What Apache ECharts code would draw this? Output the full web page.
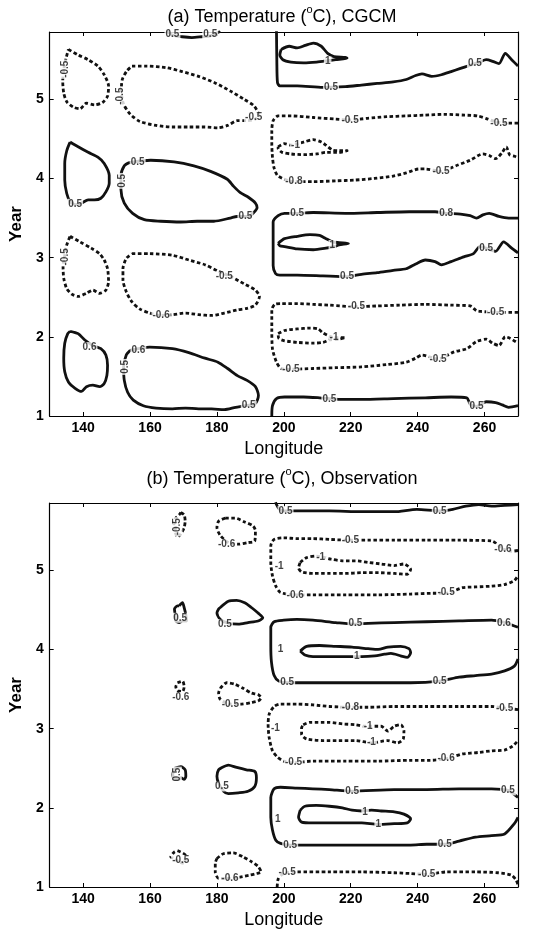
<!DOCTYPE html>
<html>
<head>
<meta charset="utf-8">
<script src="https://cdn.jsdelivr.net/npm/echarts@6/dist/echarts.min.js"></script>
<style>html,body{margin:0;padding:0;background:#fff}#c{width:539px;height:930px}</style>
</head>
<body>
<div id="c"></div>
<script>
// ---------- axis ticks ----------
var xTicks = [140, 160, 180, 200, 220, 240, 260];
var yTicks = [1, 2, 3, 4, 5];
var lonRange = [130, 270];
var yearRange = [1, 5.85];

// ---------- panel (a) CGCM : positive (solid) contours ----------
var aPos1 = [[136.1,4.46],[138.5,4.40],[141.5,4.33],[144.4,4.27],[146.3,4.19],[147.8,4.04],[147.8,3.94],[146.8,3.83],[145.3,3.75],[143.4,3.73],[141.5,3.73],[139.5,3.69],[137.6,3.67],[136.1,3.71],[135.1,3.81],[134.5,3.98],[134.5,4.19],[135.1,4.35],[136.1,4.46]];
var aPos2 = [[153.8,4.20],[160.2,4.23],[167.2,4.21],[173.1,4.16],[178.1,4.09],[183.1,3.99],[185.0,3.90],[187.0,3.82],[189.5,3.76],[191.5,3.69],[192.0,3.63],[191.0,3.57],[189.5,3.52],[186.0,3.52],[184.0,3.50],[179.1,3.46],[174.1,3.46],[169.2,3.45],[163.2,3.46],[158.3,3.48],[154.8,3.56],[152.3,3.69],[151.3,3.86],[151.3,4.03],[152.3,4.16],[153.8,4.20]];
var aPos3 = [[136.1,2.07],[138.5,2.04],[140.5,1.96],[142.9,1.89],[145.3,1.85],[146.8,1.77],[147.3,1.64],[147.1,1.51],[146.3,1.41],[144.9,1.37],[142.9,1.39],[141.0,1.37],[139.5,1.31],[137.6,1.35],[135.6,1.43],[134.5,1.56],[134.2,1.73],[134.5,1.92],[135.4,2.04],[136.1,2.07]];
var aPos4 = [[154.1,1.83],[159.9,1.87],[166.7,1.85],[171.6,1.80],[176.4,1.73],[180.3,1.68],[183.2,1.60],[186.1,1.51],[189.0,1.45],[191.5,1.37],[192.4,1.26],[191.5,1.16],[188.5,1.13],[185.6,1.11],[182.2,1.08],[178.4,1.09],[174.5,1.09],[170.6,1.10],[166.7,1.09],[161.8,1.10],[158.0,1.13],[155.0,1.20],[153.3,1.30],[152.3,1.45],[152.1,1.62],[152.9,1.77],[154.1,1.83]];
var aPos5 = [[165.0,5.86],[166.7,5.81],[169.6,5.79],[172.5,5.78],[175.5,5.79],[178.0,5.80],[181.0,5.86]];
var aPos6 = [[197.8,5.86],[197.9,5.50],[198.1,5.21],[198.8,5.17],[204.0,5.17],[211.7,5.15],[218.4,5.16],[223.2,5.18],[227.9,5.20],[232.7,5.22],[236.6,5.25],[239.4,5.30],[241.3,5.32],[244.2,5.29],[247.1,5.31],[250.0,5.35],[252.8,5.39],[255.7,5.43],[258.5,5.47],[260.5,5.50],[262.4,5.48],[264.3,5.45],[266.2,5.58],[268.1,5.50],[270.0,5.42]];
var aPos7 = [[199.2,5.63],[201.6,5.67],[204.0,5.65],[206.4,5.68],[208.8,5.71],[211.2,5.67],[213.1,5.58],[215.0,5.54],[218.4,5.53],[218.9,5.52],[215.5,5.50],[213.6,5.49],[209.8,5.47],[205.9,5.46],[202.1,5.47],[199.7,5.50],[198.8,5.56],[199.2,5.63]];
var aPos8 = [[270.0,3.50],[267.2,3.50],[264.3,3.52],[261.4,3.56],[259.5,3.54],[257.6,3.50],[255.7,3.53],[252.8,3.55],[248.5,3.56],[245.2,3.58],[237.5,3.58],[227.9,3.57],[218.4,3.56],[208.8,3.57],[204.0,3.56],[200.2,3.56],[198.3,3.53],[196.8,3.45],[196.8,3.20],[196.8,2.90],[197.5,2.80],[198.8,2.78],[204.0,2.78],[211.7,2.77],[218.9,2.76],[223.2,2.79],[227.9,2.81],[232.7,2.84],[236.6,2.86],[239.4,2.92],[242.3,2.97],[245.2,2.95],[247.1,2.91],[250.0,2.95],[253.8,3.01],[256.7,3.05],[258.6,3.14],[260.5,3.12],[263.3,3.08],[265.7,3.20],[268.1,3.12],[270.0,3.06]];
var aPos9 = [[198.3,3.18],[200.2,3.24],[204.0,3.27],[207.8,3.29],[210.7,3.28],[212.6,3.24],[214.5,3.20],[216.5,3.19],[219.3,3.18],[216.5,3.16],[215.0,3.14],[212.6,3.12],[208.8,3.10],[204.0,3.11],[200.2,3.14],[198.8,3.15],[198.3,3.18]];
var aPos10 = [[196.4,1.00],[196.6,1.13],[197.8,1.22],[200.2,1.24],[205.9,1.24],[210.7,1.23],[213.6,1.22],[217.4,1.21],[223.2,1.21],[232.7,1.22],[242.3,1.23],[250.0,1.24],[254.7,1.23],[255.7,1.15],[257.6,1.12],[260.5,1.18],[263.3,1.17],[265.3,1.14],[267.2,1.11],[270.0,1.13]];

// ---------- panel (a) CGCM : negative (dashed) contours ----------
var aNeg1 = [[135.6,5.63],[138.5,5.56],[141.5,5.50],[144.4,5.42],[146.3,5.31],[147.6,5.17],[147.3,5.04],[145.8,4.96],[143.4,4.93],[141.0,4.95],[139.0,4.88],[137.1,4.90],[135.1,4.97],[134.2,5.08],[133.9,5.23],[134.3,5.40],[134.9,5.52],[135.6,5.63]];
var aNeg2 = [[154.6,5.42],[158.9,5.42],[164.8,5.40],[169.6,5.35],[174.5,5.29],[179.3,5.21],[184.2,5.10],[188.1,5.00],[191.0,4.92],[192.4,4.81],[191.5,4.75],[189.0,4.73],[186.1,4.73],[183.2,4.67],[180.3,4.64],[176.4,4.65],[171.6,4.65],[166.7,4.65],[161.8,4.67],[157.0,4.72],[154.1,4.81],[152.1,4.94],[151.4,5.10],[151.7,5.25],[153.1,5.36],[154.6,5.42]];
var aNeg3 = [[136.1,3.27],[139.0,3.20],[142.4,3.12],[144.9,3.05],[146.3,2.97],[147.3,2.86],[147.6,2.70],[146.8,2.59],[144.9,2.55],[142.9,2.59],[141.0,2.55],[138.5,2.51],[136.6,2.54],[135.1,2.61],[134.2,2.74],[134.0,2.89],[134.5,3.03],[135.1,3.16],[136.1,3.27]];
var aNeg4 = [[154.6,3.05],[159.9,3.05],[166.7,3.03],[171.6,2.97],[176.4,2.91],[180.3,2.83],[184.2,2.76],[188.1,2.67],[191.5,2.59],[192.7,2.51],[191.5,2.40],[189.0,2.36],[186.1,2.34],[182.2,2.30],[178.4,2.27],[174.5,2.28],[170.6,2.30],[166.7,2.28],[162.8,2.27],[159.9,2.30],[157.0,2.35],[154.6,2.44],[152.9,2.57],[151.9,2.72],[151.9,2.86],[152.9,2.99],[154.6,3.05]];
var aNeg5 = [[270.0,4.70],[267.0,4.70],[265.7,4.70],[263.0,4.72],[261.0,4.75],[258.0,4.79],[254.0,4.80],[248.0,4.81],[242.0,4.80],[236.6,4.79],[230.8,4.78],[225.0,4.76],[219.8,4.74],[215.5,4.75],[208.8,4.77],[202.0,4.79],[198.3,4.79],[196.8,4.73],[196.4,4.60],[196.4,4.44],[196.6,4.27],[197.1,4.13],[198.3,4.03],[203.0,3.96],[208.8,3.96],[215.5,3.97],[221.2,3.98],[227.0,4.00],[232.7,4.03],[236.6,4.07],[240.4,4.12],[242.3,4.12],[247.0,4.09],[252.0,4.17],[255.7,4.23],[259.5,4.31],[261.4,4.29],[263.3,4.25],[265.3,4.33],[266.5,4.40],[267.5,4.30],[269.0,4.28],[270.0,4.26]];
var aNeg6 = [[198.3,4.40],[200.2,4.44],[202.1,4.42],[205.9,4.46],[208.8,4.49],[211.2,4.46],[212.6,4.42],[214.5,4.36],[216.5,4.35],[218.9,4.35],[216.5,4.33],[212.6,4.33],[209.8,4.31],[205.9,4.30],[202.1,4.31],[199.5,4.33],[198.3,4.38],[198.3,4.40]];
var aNeg7 = [[270.0,2.31],[266.0,2.31],[263.3,2.31],[259.0,2.32],[257.6,2.33],[255.7,2.39],[250.0,2.40],[242.3,2.41],[234.6,2.40],[227.9,2.39],[221.7,2.38],[213.6,2.40],[208.8,2.41],[204.0,2.42],[199.2,2.42],[197.3,2.41],[196.4,2.34],[196.4,2.10],[196.6,1.85],[197.8,1.68],[199.2,1.60],[202.1,1.59],[208.8,1.60],[215.5,1.61],[223.2,1.62],[230.8,1.65],[236.6,1.68],[239.4,1.73],[241.3,1.77],[246.1,1.72],[250.9,1.81],[254.7,1.85],[257.6,1.94],[260.5,1.97],[262.4,1.92],[264.3,1.89],[266.2,2.00],[267.7,1.98],[270.0,1.92]];
var aNeg8 = [[198.3,2.04],[200.2,2.08],[204.0,2.10],[207.8,2.11],[210.2,2.10],[211.7,2.05],[213.6,2.01],[215.0,1.99],[218.4,1.99],[216.5,1.97],[213.6,1.96],[211.7,1.93],[208.8,1.92],[204.0,1.93],[200.2,1.95],[198.5,1.98],[198.3,2.04]];

// ---------- panel (a) contour labels ----------
var aLabels = [[137.6,3.68,'0.5'],[156.3,4.21,'0.5'],[188.5,3.52,'0.5'],[141.9,1.87,'0.6'],[156.5,1.83,'0.6'],[189.5,1.13,'0.5'],
  [191.0,4.77,'-0.5'],[182.2,2.76,'-0.5'],[163.3,2.27,'-0.6'],[166.7,5.82,'0.5'],[178.0,5.82,'0.5'],
  [214.1,5.15,'0.5'],[257.1,5.46,'0.5'],[213.1,5.48,'1'],[219.8,4.74,'-0.5'],[264.3,4.70,'-0.5'],[203.0,3.96,'-0.8'],[247.0,4.09,'-0.5'],[203.5,4.42,'-1'],
  [204.0,3.56,'0.5'],[248.5,3.56,'0.8'],[218.9,2.76,'0.5'],[260.5,3.12,'0.5'],[214.5,3.16,'1'],
  [221.7,2.38,'-0.5'],[263.3,2.31,'-0.5'],[202.1,1.59,'-0.5'],[246.1,1.72,'-0.5'],[215.0,1.99,'-1'],
  [213.6,1.21,'0.5'],[257.6,1.12,'0.5']];
var aLabelsVert = [[134.6,5.38,'-0.5'],[151.2,5.04,'-0.5'],[151.8,3.97,'0.5'],[134.6,3.01,'-0.5'],[152.6,1.62,'0.5']];

// ---------- panel (b) Observation : positive (solid) contours ----------
var bPos1 = [[168.7,4.55],[169.7,4.59],[170.2,4.53],[170.7,4.44],[170.9,4.36],[169.7,4.36],[168.7,4.34],[167.7,4.36],[167.5,4.44],[167.3,4.51],[168.2,4.55],[168.7,4.55]];
var bPos2 = [[181.0,4.53],[183.4,4.61],[185.9,4.62],[188.3,4.59],[190.3,4.53],[192.3,4.46],[193.7,4.40],[192.3,4.36],[189.3,4.34],[186.4,4.32],[182.9,4.34],[181.0,4.38],[180.0,4.46],[180.5,4.51],[181.0,4.53]];
var bPos3 = [[167.3,2.50],[169.2,2.52],[170.5,2.48],[170.7,2.40],[170.2,2.36],[169.2,2.38],[168.7,2.36],[167.3,2.36],[166.8,2.42],[167.3,2.50]];
var bPos4 = [[181.5,2.51],[183.4,2.54],[185.9,2.51],[188.8,2.48],[191.3,2.46],[191.8,2.38],[191.3,2.27],[189.3,2.21],[186.4,2.19],[183.4,2.18],[182.0,2.21],[180.5,2.31],[180.0,2.40],[180.5,2.48],[181.5,2.51]];
var bPos5 = [[197.5,5.86],[198.5,5.78],[200.0,5.75],[203.9,5.75],[213.6,5.75],[223.3,5.74],[233.0,5.74],[239.8,5.77],[246.6,5.75],[250.5,5.77],[254.4,5.81],[258.3,5.83],[262.1,5.81],[266.0,5.82],[270.0,5.83]];
var bPos6 = [[270.0,4.28],[268.0,4.31],[266.0,4.34],[262.1,4.37],[252.4,4.36],[242.7,4.35],[233.0,4.34],[225.2,4.33],[221.4,4.32],[215.5,4.34],[208.7,4.37],[203.9,4.38],[200.0,4.37],[197.1,4.35],[196.1,4.28],[196.1,4.05],[196.3,3.84],[197.1,3.67],[198.5,3.60],[201.0,3.58],[208.7,3.58],[218.4,3.58],[228.2,3.58],[237.9,3.58],[246.6,3.60],[252.4,3.65],[257.3,3.67],[262.1,3.69],[266.0,3.73],[268.9,3.79],[270.0,3.88]];
var bPos7 = [[204.9,3.98],[206.8,4.04],[210.7,4.05],[215.5,4.04],[220.4,4.03],[225.2,4.01],[228.2,4.00],[231.1,4.03],[234.9,4.04],[237.4,4.01],[237.9,3.96],[236.9,3.90],[234.9,3.92],[232.0,3.95],[230.1,3.94],[227.2,3.92],[223.3,3.91],[218.4,3.91],[213.6,3.91],[208.7,3.91],[206.3,3.93],[204.9,3.98]];
var bPos8 = [[270.0,2.13],[267.0,2.22],[262.1,2.24],[252.4,2.24],[242.7,2.23],[233.0,2.23],[220.4,2.21],[213.6,2.23],[208.7,2.24],[203.9,2.25],[199.0,2.26],[197.1,2.24],[196.1,2.13],[196.1,1.88],[196.6,1.72],[197.6,1.59],[199.0,1.55],[201.9,1.53],[208.7,1.53],[218.4,1.53],[228.2,1.53],[237.9,1.53],[242.7,1.54],[248.1,1.54],[252.4,1.58],[257.3,1.63],[262.1,1.65],[266.0,1.67],[268.9,1.80],[270.0,1.88]];
var bPos9 = [[204.9,1.97],[206.3,2.02],[209.7,2.03],[213.6,2.02],[217.5,2.00],[220.4,1.97],[223.3,1.96],[226.2,1.97],[229.1,1.96],[233.0,1.95],[235.9,1.92],[237.9,1.86],[236.9,1.81],[233.0,1.80],[228.2,1.79],[223.3,1.81],[218.4,1.81],[213.6,1.81],[208.7,1.81],[205.3,1.82],[204.4,1.88],[204.9,1.97]];

// ---------- panel (b) Observation : negative (dashed) contours ----------
var bNeg1 = [[169.2,5.73],[170.2,5.70],[170.5,5.62],[170.2,5.54],[169.2,5.46],[168.2,5.42],[167.5,5.50],[167.7,5.56],[167.0,5.60],[167.7,5.66],[168.7,5.70],[169.2,5.73]];
var bNeg2 = [[182.5,5.66],[185.4,5.66],[188.3,5.61],[190.8,5.56],[191.5,5.50],[191.3,5.37],[189.3,5.35],[186.4,5.33],[183.4,5.35],[181.0,5.44],[180.0,5.54],[180.5,5.62],[182.5,5.66]];
var bNeg3 = [[168.2,3.58],[169.7,3.60],[170.2,3.53],[169.7,3.47],[168.2,3.48],[167.7,3.53],[168.2,3.58]];
var bNeg4 = [[181.0,3.51],[182.9,3.58],[185.4,3.56],[187.8,3.51],[190.3,3.45],[192.3,3.43],[193.2,3.39],[192.3,3.35],[190.3,3.33],[187.4,3.31],[183.9,3.31],[181.0,3.37],[180.5,3.45],[181.0,3.51]];
var bNeg5 = [[168.2,1.46],[170.6,1.40],[170.2,1.30],[168.5,1.32],[167.2,1.36],[166.2,1.38],[167.2,1.44],[168.2,1.46]];
var bNeg6 = [[180.0,1.36],[181.9,1.42],[184.9,1.43],[187.8,1.38],[190.3,1.32],[192.3,1.26],[193.2,1.19],[191.8,1.17],[189.8,1.15],[183.9,1.11],[180.5,1.11],[179.5,1.19],[179.5,1.30],[180.0,1.36]];
var bNeg7 = [[270.0,5.25],[268.0,5.24],[265.5,5.27],[262.1,5.37],[252.4,5.38],[242.7,5.38],[233.0,5.38],[225.2,5.38],[219.9,5.38],[213.6,5.39],[208.7,5.40],[203.9,5.40],[200.0,5.41],[197.1,5.39],[196.1,5.31],[196.1,5.10],[196.6,4.93],[197.6,4.80],[199.0,4.72],[203.4,4.69],[208.7,4.69],[218.4,4.69],[228.2,4.69],[237.9,4.70],[244.7,4.71],[248.5,4.71],[253.4,4.78],[257.3,4.79],[262.1,4.80],[266.0,4.82],[268.9,4.87],[270.0,4.93]];
var bNeg8 = [[204.9,5.10],[206.8,5.16],[209.7,5.18],[214.1,5.14],[217.5,5.12],[221.4,5.12],[225.2,5.10],[229.1,5.08],[233.0,5.06],[235.9,5.08],[237.9,5.01],[236.9,4.95],[233.0,4.96],[228.2,4.97],[223.3,4.97],[218.4,4.96],[213.6,4.96],[208.7,4.96],[205.3,4.98],[204.4,5.03],[204.9,5.10]];
var bNeg9 = [[270.0,3.24],[266.0,3.26],[262.1,3.28],[252.4,3.28],[242.7,3.28],[233.0,3.28],[225.2,3.27],[219.9,3.27],[213.6,3.28],[208.7,3.30],[203.9,3.31],[199.0,3.31],[197.1,3.28],[195.6,3.18],[195.3,3.05],[195.6,2.89],[196.6,2.72],[198.1,2.64],[200.0,2.59],[202.9,2.57],[208.7,2.59],[218.4,2.59],[228.2,2.59],[237.9,2.60],[243.7,2.60],[248.5,2.62],[253.4,2.68],[258.3,2.70],[262.1,2.72],[266.0,2.73],[268.4,2.78],[270.0,2.85]];
var bNeg10 = [[205.8,3.05],[207.8,3.08],[213.6,3.08],[217.5,3.06],[221.4,3.05],[224.3,3.03],[229.1,3.03],[231.1,2.97],[233.0,3.03],[235.0,3.05],[235.9,2.97],[235.7,2.87],[234.0,2.82],[231.1,2.85],[226.2,2.82],[221.4,2.85],[216.5,2.85],[211.7,2.85],[206.8,2.87],[205.3,2.93],[205.3,3.01],[205.8,3.05]];
var bNeg11 = [[198.0,1.00],[198.3,1.10],[199.5,1.16],[201.0,1.18],[203.9,1.19],[213.6,1.19],[223.3,1.19],[233.0,1.18],[237.9,1.17],[242.7,1.16],[248.5,1.19],[257.3,1.19],[264.1,1.18],[268.0,1.15],[269.4,1.09],[270.0,1.03]];

// ---------- panel (b) contour labels ----------
var bLabels = [[182.9,5.33,'-0.6'],[169.0,4.40,'0.5'],[182.4,4.32,'0.5'],[169.2,3.40,'-0.6'],[184.0,3.31,'-0.5'],[181.5,2.27,'0.5'],[169.2,1.34,'-0.5'],[183.9,1.11,'-0.6'],
  [200.5,5.75,'0.5'],[246.6,5.75,'0.5'],[219.9,5.38,'-0.5'],[265.5,5.27,'-0.6'],[203.4,4.69,'-0.6'],[248.5,4.72,'-0.5'],[211.0,5.16,'-1'],
  [221.4,4.33,'0.5'],[265.8,4.33,'0.6'],[201.0,3.58,'0.5'],[246.6,3.60,'0.5'],[221.8,3.91,'1'],[199.0,4.00,'1'],
  [219.9,3.27,'-0.8'],[266.0,3.26,'-0.5'],[202.9,2.57,'-0.5'],[248.5,2.62,'-0.6'],[225.2,3.03,'-1'],[226.2,2.83,'-1'],[197.5,3.00,'-1'],
  [220.4,2.21,'0.5'],[267.0,2.22,'0.5'],[201.9,1.53,'0.5'],[248.1,1.54,'0.5'],[224.3,1.95,'1'],[228.2,1.79,'1'],[198.2,1.85,'1'],
  [201.0,1.18,'-0.5'],[242.7,1.16,'-0.5'],[198.6,5.05,'-1']];
var bLabelsVert = [[168.2,5.55,'-0.5'],[168.0,2.42,'0.5']];

var aPositive = [aPos1, aPos2, aPos3, aPos4, aPos5, aPos6, aPos7, aPos8, aPos9, aPos10];
var aNegative = [aNeg1, aNeg2, aNeg3, aNeg4, aNeg5, aNeg6, aNeg7, aNeg8];
var bPositive = [bPos1, bPos2, bPos3, bPos4, bPos5, bPos6, bPos7, bPos8, bPos9];
var bNegative = [bNeg1, bNeg2, bNeg3, bNeg4, bNeg5, bNeg6, bNeg7, bNeg8, bNeg9, bNeg10, bNeg11];

// ---------- build chart ----------
var FONT = 'Liberation Sans, Arial, sans-serif';
var series = [];
function addLines(list, panel, dashed) {
  list.forEach(function (pts) {
    series.push({
      type: 'line', xAxisIndex: panel * 2, yAxisIndex: panel * 2,
      data: pts, showSymbol: false, symbol: 'none', smooth: 0.25, silent: true,
      lineStyle: { color: '#111', width: 2.8, type: dashed ? [3.5, 2.5] : 'solid', cap: 'butt', join: 'round' },
      z: 2
    });
  });
}
function addLabels(list, panel, rot) {
  series.push({
    type: 'scatter', xAxisIndex: panel * 2, yAxisIndex: panel * 2, symbolSize: 0, silent: true, z: 5,
    data: list.map(function (d) { return { value: [d[0], d[1]], name: d[2] }; }),
    label: {
      show: true, position: 'inside', formatter: function (p) { return p.name; }, rotate: rot,
      fontSize: 10, fontWeight: 'bold', fontFamily: FONT, color: '#111',
      backgroundColor: '#fff', padding: [0, 1, 0, 1]
    }
  });
}
addLines(aPositive, 0, false); addLines(aNegative, 0, true);
addLines(bPositive, 1, false); addLines(bNegative, 1, true);
addLabels(aLabels, 0, 0); addLabels(aLabelsVert, 0, 90);
addLabels(bLabels, 1, 0); addLabels(bLabelsVert, 1, 90);

function xAx(grid, pos, main) {
  return {
    type: 'value', gridIndex: grid, position: pos, min: lonRange[0], max: lonRange[1],
    axisLine: { show: true, onZero: false, lineStyle: { color: '#000', width: 1.2 } },
    axisTick: { show: true, inside: true, length: 4, customValues: xTicks, lineStyle: { color: '#000' } },
    axisLabel: { show: main, customValues: xTicks, margin: 5, fontSize: 14, fontWeight: 'bold', fontFamily: FONT, color: '#000' },
    splitLine: { show: false },
    name: main ? 'Longitude' : '', nameLocation: 'middle', nameGap: 24,
    nameTextStyle: { fontSize: 18, fontFamily: FONT, color: '#000' }
  };
}
function yAx(grid, pos, main) {
  return {
    type: 'value', gridIndex: grid, position: pos, min: yearRange[0], max: yearRange[1],
    axisLine: { show: true, onZero: false, lineStyle: { color: '#000', width: 1.2 } },
    axisTick: { show: true, inside: true, length: 4, customValues: yTicks, lineStyle: { color: '#000' } },
    axisLabel: { show: main, customValues: yTicks, margin: 6, fontSize: 14, fontWeight: 'bold', fontFamily: FONT, color: '#000' },
    splitLine: { show: false },
    name: main ? 'Year' : '', nameLocation: 'middle', nameGap: 24,
    nameTextStyle: { fontSize: 17, fontWeight: 'bold', fontFamily: FONT, color: '#000' }
  };
}
function titleText(txt, y) {
  return {
    type: 'text', x: 282, y: y,
    style: {
      text: txt, fill: '#000', align: 'center', verticalAlign: 'middle',
      rich: {
        n: { fontSize: 18, lineHeight: 22, fontFamily: FONT, verticalAlign: 'bottom' },
        s: { fontSize: 11, lineHeight: 22, fontFamily: FONT, verticalAlign: 'top' }
      }
    }
  };
}

var chart = echarts.init(document.getElementById('c'), null, { renderer: 'canvas' });
chart.setOption({
  animation: false,
  backgroundColor: '#fff',
  grid: [
    { left: 45, top: 32, width: 473, height: 384 },
    { left: 45, top: 503, width: 473, height: 384 }
  ],
  xAxis: [xAx(0, 'bottom', true), xAx(0, 'top', false), xAx(1, 'bottom', true), xAx(1, 'top', false)],
  yAxis: [yAx(0, 'left', true), yAx(0, 'right', false), yAx(1, 'left', true), yAx(1, 'right', false)],
  graphic: [
    titleText('{n|(a) Temperature (}{s|o}{n|C), CGCM}', 15),
    titleText('{n|(b) Temperature (}{s|o}{n|C), Observation}', 477)
  ],
  series: series
});
</script>
</body>
</html>
